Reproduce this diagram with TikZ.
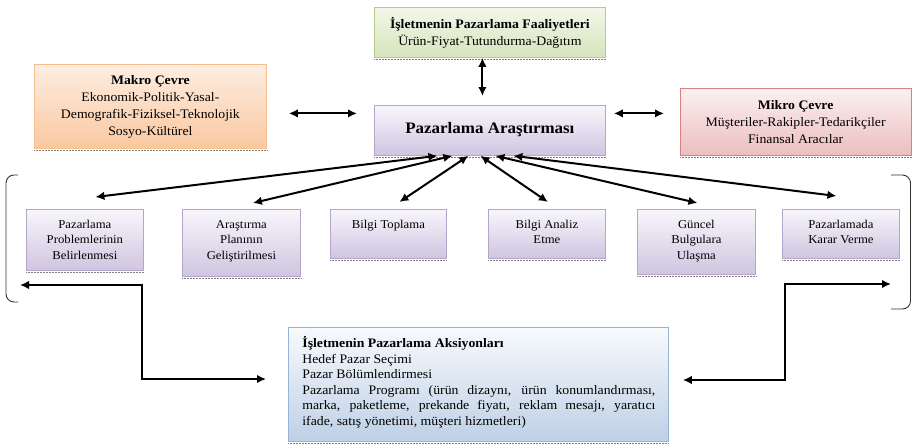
\documentclass[tikz,border=0pt]{standalone}
\usepackage{fontspec}
\setmainfont{Liberation Serif}[FakeStretch=1.06]
\usetikzlibrary{arrows.meta}
\definecolor{grnB}{RGB}{180,205,135}\definecolor{grnT}{RGB}{242,247,234}\definecolor{grnD}{RGB}{214,228,188}
\definecolor{orgB}{RGB}{250,190,140}\definecolor{orgT}{RGB}{253,238,226}\definecolor{orgD}{RGB}{250,200,160}
\definecolor{purB}{RGB}{180,165,205}\definecolor{purT}{RGB}{248,246,251}\definecolor{purD}{RGB}{207,197,224}
\definecolor{redB}{RGB}{215,130,130}\definecolor{redT}{RGB}{251,240,240}\definecolor{redD}{RGB}{236,190,190}
\definecolor{bluB}{RGB}{150,180,215}\definecolor{bluT}{RGB}{247,250,253}\definecolor{bluD}{RGB}{190,208,230}
\newcommand\bxc[3]{\parbox[c][#2][c]{#1}{\centering #3}}
\newcommand\bxtop[4]{\parbox[c][#2][t]{#1}{\centering\vspace*{#3}#4}}
\tikzset{
  bx/.style n args={3}{draw=#1, top color=#2, bottom color=#3, line width=0.8pt, inner sep=0pt, anchor=north west},
  grnbox/.style={bx={grnB}{grnT}{grnD}},
  orgbox/.style={bx={orgB}{orgT}{orgD}},
  purbox/.style={bx={purB}{purT}{purD}},
  redbox/.style={bx={redB}{redT}{redD}},
  blubox/.style={bx={bluB}{bluT}{bluD}},
  dbl/.style={{Latex[length=9pt,width=8.5pt]}-{Latex[length=9pt,width=8.5pt]}, line width=2pt},
  brk/.style={draw=black!80, line width=0.9pt, rounded corners=8pt},
  shd/.style={draw=black!50, line width=1.4pt, dash pattern=on 0.6pt off 0.9pt},
  txt/.style={font=\fontsize{13}{17}\selectfont},
  stxt/.style={font=\fontsize{12}{15.5}\selectfont}
}
\begin{document}
\begin{tikzpicture}[x=1pt,y=-1pt]
\useasboundingbox[fill=white] (0,0) rectangle (912,444);
% top boxes
\node[grnbox, txt] (g) at (374,7) {\bxc{231pt}{50pt}{\textbf{İşletmenin Pazarlama Faaliyetleri}\\Ürün-Fiyat-Tutundurma-Dağıtım}};
\node[orgbox, txt] (mk) at (34,64) {\bxc{232pt}{84pt}{\textbf{Makro Çevre}\\Ekonomik-Politik-Yasal-\\Demografik-Fiziksel-Teknolojik\\Sosyo-Kültürel}};
\node[purbox, font=\fontsize{16}{19}\selectfont] (c) at (374,105) {\bxc{231pt}{50pt}{\raisebox{4pt}{\textbf{Pazarlama Araştırması}}}};
\node[redbox, txt] (mi) at (680,88) {\bxc{230.5pt}{67pt}{\raisebox{2pt}{\parbox{230pt}{\centering\textbf{Mikro Çevre}\\Müşteriler-Rakipler-Tedarikçiler\\Finansal Aracılar}}}};
% step boxes
\node[purbox, stxt] (b1) at (26,209) {\bxtop{117pt}{61pt}{8pt}{\strut Pazarlama\\Problemlerinin\\Belirlenmesi}};
\node[purbox, stxt] (b2) at (182,209) {\bxtop{118pt}{67pt}{8pt}{\strut Araştırma\\Planının\\Geliştirilmesi}};
\node[purbox, stxt] (b3) at (330,209) {\bxtop{116pt}{49pt}{8pt}{\strut Bilgi Toplama}};
\node[purbox, stxt] (b4) at (488,209) {\bxtop{117pt}{49pt}{8pt}{\strut Bilgi Analiz\\Etme}};
\node[purbox, stxt] (b5) at (637,209) {\bxtop{118pt}{65pt}{8pt}{\strut Güncel\\Bulgulara\\Ulaşma}};
\node[purbox, stxt] (b6) at (782,209) {\bxtop{117pt}{49pt}{8pt}{\strut Pazarlamada\\Karar Verme}};
% bottom box
\node[blubox, font=\fontsize{13}{15.5}\selectfont] (a) at (288,327) {\parbox[c][114pt][t]{380pt}{\vspace*{9pt}\hspace*{14pt}\parbox[t]{353pt}{\strut\textbf{İşletmenin Pazarlama Aksiyonları}\\Hedef Pazar Seçimi\\Pazar Bölümlendirmesi\\Pazarlama Programı (ürün dizaynı, ürün konumlandırması,\linebreak marka, paketleme, prekande fiyatı, reklam mesajı, yaratıcı\linebreak ifade, satış yönetimi, müşteri hizmetleri)}}};
% shadows
\foreach \n in {g,mk,c,mi,b1,b2,b3,b4,b5,b6,a}
  \draw[shd] ([yshift=-1.6pt]\n.south west) -- ([yshift=-1.6pt]\n.south east);
% arrows among top boxes
\coordinate (gs) at ([xshift=-7.5pt]g.south);
\coordinate (cn) at ([xshift=-7.5pt,yshift=9pt]c.north);
\draw[dbl] (gs) -- (cn);
\coordinate (ml) at ([xshift=22pt,yshift=-7pt]mk.east);
\coordinate (cl) at ([xshift=-17pt]c.west);
\draw[dbl] (ml) -- (cl |- ml);
\coordinate (cr) at ([xshift=8pt,yshift=17pt]c.east);
\coordinate (mr) at ([xshift=-16pt]mi.west);
\draw[dbl] (cr) -- (mr |- cr);
% fan arrows
\draw[dbl] ([xshift=-52.5pt]c.south) -- ([xshift=10.5pt,yshift=12pt]b1.north);
\draw[dbl] ([xshift=-37.5pt]c.south) -- ([xshift=11.5pt,yshift=6pt]b2.north);
\draw[dbl] ([xshift=-21.5pt]c.south) -- ([xshift=11pt,yshift=7pt]b3.north);
\draw[dbl] ([xshift=-9.5pt]c.south) -- ([xshift=1pt,yshift=7pt]b4.north);
\draw[dbl] ([xshift=5.5pt]c.south) -- ([xshift=1pt,yshift=6pt]b5.north);
\draw[dbl] ([xshift=23.5pt]c.south) -- ([xshift=-4.5pt,yshift=13pt]b6.north);
% brackets
\coordinate (lt) at (18,175); \coordinate (lbt) at (18,302);
\coordinate (rt) at (891,175); \coordinate (rbt) at (891,309);
\draw[brk] (lt) -- (6,175) -- (6,302) -- (lbt);
\draw[brk] (rt) -- (910.5,175) -- (910.5,309) -- (rbt);
% elbows
\coordinate (lb) at (20,285); \coordinate (lel) at (142,379);
\coordinate (rb) at (891,284); \coordinate (rel) at (785,380);
\coordinate (aw) at ([xshift=-22pt]a.west);
\coordinate (ae) at ([xshift=14pt]a.east);
\draw[dbl] (lb) -| (lel) -- (aw |- lel);
\draw[dbl] (rb) -| (rel) -- (ae |- rel);
\end{tikzpicture}
\end{document}
